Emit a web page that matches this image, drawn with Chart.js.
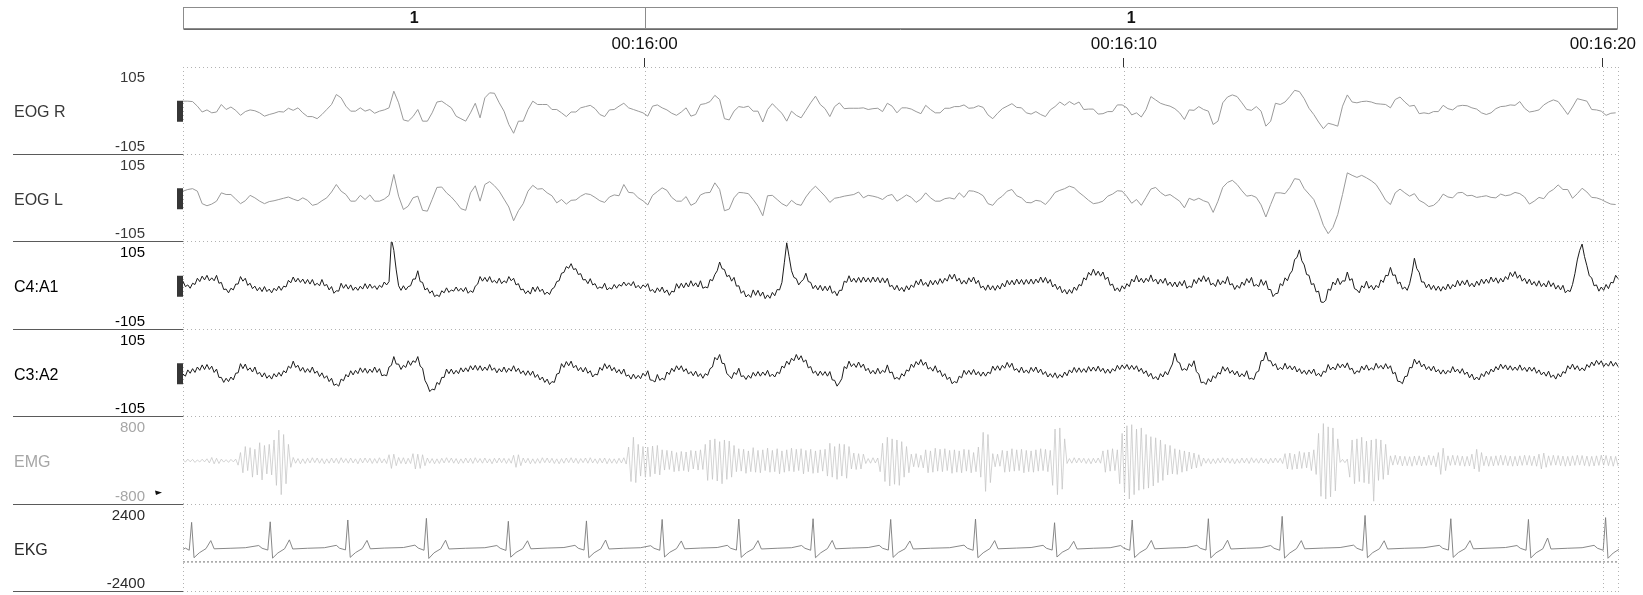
<!DOCTYPE html>
<html>
<head>
<meta charset="utf-8">
<title>PSG epoch view</title>
<script src="https://cdn.jsdelivr.net/npm/chart.js@4/dist/chart.umd.min.js"></script>
<style>
  html, body { margin: 0; padding: 0; background: #fff; }
  #wrap { position: relative; width: 1643px; height: 595px; }
</style>
</head>
<body>
<div id="wrap"><canvas id="psgChart" width="1643" height="595"></canvas></div>
<script>
// time axis (seconds of the recording)
const epochStart = 950.365;
const epochLength = 29.97;
const timeTicks = [960, 970, 980];
const epochBounds = [930, 960, 990];
const epochStages = ['1', '1'];

const channelNames = ['EOG R', 'EOG L', 'C4:A1', 'C3:A2', 'EMG', 'EKG'];
const channelLimits = [105, 105, 105, 105, 800, 2400];

const eogStep = 0.1;
const eegStep = 0.05;
const emgStep = 0.05;

const eogR = [
  23, 23, 22, 11, -3, 2, -5, -3, 15, 3,
  9, 1, -11, -2, 2, 0, -5, -13, -9, -6,
  -2, -3, 6, 1, 7, -5, -14, -14, -19, -9,
  3, 15, 39, 31, 11, -1, -1, 7, -1, 3,
  -6, -1, 2, 7, 47, 19, -22, -25, -14, 3,
  -25, -25, -5, 21, 23, 15, 7, -13, -19, -25,
  -5, 18, -17, 31, 43, 42, 19, -1, -33, -54,
  -25, -25, 3, 23, 15, 15, 15, 3, 3, -5,
  -14, -3, -3, 7, 10, 13, 5, -9, -14, 2,
  3, 11, 18, 7, 3, -1, -5, -13, 11, 14,
  7, 2, -6, -11, -3, 7, -13, -9, 15, 17,
  22, 37, 27, -19, -22, -1, 10, 8, 11, -1,
  -1, -27, 3, 17, 5, -6, -25, -1, -11, -17,
  1, 19, 35, 15, 5, -14, 10, 19, 5, 6,
  6, 6, 7, 3, 5, 6, -2, 18, 11, -5,
  7, 7, 4, -2, -7, 13, 3, -5, -5, 6,
  6, 10, 10, 14, 6, 7, 12, 8, -10, -19,
  -6, 5, 11, 17, 8, 7, -5, -8, -2, -9,
  -14, 2, 10, 21, 13, 22, 15, 21, 3, 4,
  4, -8, -7, -2, -2, 14, 14, 7, -10, -5,
  -15, 3, 34, 26, 18, 14, 11, 5, -5, -21,
  2, 1, 10, 3, -1, -33, -25, 19, 33, 38,
  34, 19, 3, 1, 10, -1, -37, -25, 18, 15,
  21, 34, 49, 46, 29, 6, -9, -27, -43, -30,
  -33, -37, 11, 38, 21, 19, 22, 23, 21, 17,
  16, 15, 7, 27, 33, 21, 11, 13, -7, -5,
  -7, -2, -2, 13, 5, 2, 11, 13, 12, 7,
  4, -5, -9, -5, 5, 10, 11, 14, 13, 22,
  6, -3, -1, 2, 14, 21, 26, 22, 7, -9,
  9, 29, 26, 23, 3, 2, -1, -11, -6, -5
];

const eogL = [
  17, 21, 23, 17, -13, -18, -14, -7, 13, 9,
  9, -2, -13, -6, 7, 1, -7, -13, -8, -6,
  -3, 0, 3, -2, -6, 1, -5, -17, -14, -6,
  1, 15, 33, 17, 9, -7, -7, 7, -3, 8,
  -7, -7, -2, 7, 57, 5, -27, -19, 1, 5,
  -29, -31, -3, 26, 27, 13, 3, -10, -25, -29,
  13, 30, -7, 33, 40, 30, 17, -2, -21, -54,
  -30, -13, 17, 31, 22, 23, 13, 6, -11, -3,
  -14, -5, -4, 5, 11, 9, 2, -6, -10, 3,
  8, 6, 33, 14, 13, 1, -6, -16, 7, 16,
  25, 19, 2, -7, -7, 4, -17, -11, 8, 13,
  14, 37, 21, -30, -26, 1, 14, 13, 11, -3,
  -19, -42, 6, 7, -3, -13, -19, -5, -14, -17,
  3, 18, 29, 17, 5, -10, 0, 2, 5, 7,
  9, 15, 1, 7, 5, 2, -3, 6, 9, -7,
  0, 8, 2, -10, -2, 13, 1, -7, -7, -1,
  1, -2, 13, 2, 18, 17, 13, 6, -13, -17,
  -3, 5, 17, 21, 6, 1, -10, -11, -5, -7,
  -15, -2, 14, 19, 23, 29, 25, 14, 5, -5,
  -13, -11, -7, 5, 10, 18, 17, 4, -12, -3,
  -17, 2, 22, 26, 14, 6, 9, 1, -7, -23,
  0, -5, 0, -6, -10, -34, -7, 26, 38, 43,
  33, 18, 5, 7, 2, -16, -45, -15, 13, 13,
  11, 26, 47, 45, 23, 10, -3, -31, -65, -85,
  -70, -39, 9, 61, 55, 50, 55, 49, 42, 33,
  15, -5, -15, 13, 22, 13, 5, 11, -5, -11,
  -20, -17, -7, 10, 3, 1, 13, 14, 6, 7,
  2, 4, 6, 2, 1, 10, 6, 8, 14, 11,
  3, -14, -7, 2, -1, 14, 21, 32, 21, 21,
  0, 11, 24, 15, 2, 1, -3, -9, -14, -15
];

const c4a1 = [
  11, -2, 2, -6, 6, 3, 18, 10, 23, 14, 25, 12, 19, 12, 25, 6, 8, -9, -8, -17,
  -6, -10, 4, 4, 22, 11, 18, 1, 6, -7, -1, -12, -4, -14, -2, -14, -8, -17, -6, -12,
  -1, -11, -1, -3, 13, 7, 21, 9, 18, 8, 16, 5, 15, 4, 15, 1, 6, 0, 15, 0,
  3, -10, -2, -18, -12, -13, 6, -6, 3, -8, 2, -11, -3, -11, -1, -8, 5, -7, 4, -6,
  0, -9, 1, -4, 9, 2, 10, 112, 85, 38, 0, -11, 0, -10, -2, 0, 16, 16, 36, 10,
  8, -10, -6, -18, -12, -26, -22, -26, -12, -17, -5, -16, -10, -13, -3, -13, -6, -14, -4, -18,
  -12, -16, -1, 4, 22, 11, 20, 10, 22, 8, 13, 6, 18, 5, 12, 7, 22, 12, 18, 2,
  5, -10, -8, -19, -12, -20, -3, -14, -2, -14, -8, -21, -15, -21, -8, -4, 10, 12, 30, 32,
  46, 42, 53, 39, 41, 27, 29, 14, 15, 5, 17, 2, 5, -7, -3, -6, 6, -10, -5, -8,
  3, -6, 3, -1, 9, 0, 7, 0, 10, -5, 1, -7, 2, -3, 5, -13, -9, -17, -5, -14,
  -3, -17, -10, -23, -13, -15, 5, -6, 6, -5, 7, -3, 12, -1, 7, -3, 12, -6, -3, -5,
  15, 12, 27, 36, 57, 41, 39, 22, 25, 11, 20, -1, 0, -18, -12, -27, -21, -28, -10, -23,
  -11, -25, -15, -31, -22, -30, -16, -24, -9, -10, 8, 55, 103, 70, 36, 20, 17, 2, 10, 15,
  30, 10, 8, -7, 1, -10, 1, -12, -1, -12, 0, -18, -13, -24, -11, -11, 11, 8, 24, 9,
  18, 8, 20, 8, 21, 9, 19, 8, 21, 9, 20, 7, 19, 7, 18, -2, 1, -10, 1, -12,
  -4, -14, 0, -10, 2, -4, 12, 2, 16, 1, 8, -2, 13, 2, 13, 3, 17, 6, 18, 11,
  27, 16, 28, 11, 18, 4, 13, 4, 19, 9, 21, 5, 13, -5, -1, -11, 2, -10, 0, -11,
  1, -8, 6, -3, 13, 2, 13, 2, 16, 4, 15, 3, 15, 4, 16, 4, 16, 7, 21, 8,
  20, 6, 15, -3, 4, -9, -1, -17, -9, -20, -9, -18, -3, -11, 3, 0, 19, 14, 32, 25,
  40, 25, 35, 23, 33, 15, 21, 1, 4, -12, -5, -14, 0, -8, 5, -2, 16, 9, 25, 9,
  18, 7, 18, 10, 26, 10, 16, 4, 16, 6, 18, 1, 9, -2, 9, -3, 10, 0, 13, -6,
  -1, -4, 15, 5, 19, 10, 24, 10, 20, 2, 6, -2, 15, 2, 12, 5, 22, 2, 5, -9,
  1, -6, 9, 1, 17, 7, 20, -1, 3, -2, 15, 1, 12, -9, -9, -26, -19, -18, 5, 0,
  19, 12, 28, 36, 63, 68, 86, 60, 50, 27, 25, 3, 5, -15, -13, -39, -40, -35, -8, -11,
  9, 2, 18, 3, 12, 11, 33, 13, 17, -7, -10, -17, 0, -5, 11, -6, 1, -10, 1, -5,
  14, 8, 25, 24, 44, 25, 26, 5, 9, -8, -3, -11, 5, 31, 66, 41, 32, 9, 9, -5,
  4, -9, 1, -11, -1, -13, -2, -10, 4, -8, 3, -3, 13, 0, 12, 2, 14, -2, 6, -3,
  11, 1, 16, 5, 16, 6, 21, 9, 19, 6, 18, 9, 22, 15, 32, 22, 34, 18, 26, 11,
  18, 5, 16, 2, 10, -1, 12, -2, 6, -3, 12, -2, 7, -8, 1, -10, 1, -17, -11, -14,
  3, 29, 62, 85, 100, 70, 48, 24, 19, 0, 2, -13, -3, -11, 3, -7, 8, 7, 25, 17
];

const c3a2 = [
  -2, -7, 8, 0, 11, 2, 15, 7, 20, 9, 21, 9, 17, 2, 10, -10, -10, -22, -12, -20,
  -9, -16, 0, 1, 23, 11, 22, 7, 13, 3, 15, -2, 2, -9, 1, -12, -5, -14, -1, -9,
  2, -7, 6, 1, 17, 12, 29, 14, 19, 5, 14, 2, 11, 2, 15, 0, 5, -8, 1, -12,
  -6, -20, -12, -29, -26, -31, -14, -18, -3, -9, 6, -4, 7, -1, 13, 2, 12, 0, 10, 2,
  15, 2, 11, -6, -4, -6, 15, 19, 40, 22, 22, 9, 19, 14, 30, 19, 30, 26, 40, 17,
  12, -17, -28, -44, -38, -40, -22, -27, -10, -10, 10, -1, 10, -2, 7, -1, 13, 3, 13, 4,
  18, 8, 19, 7, 18, 6, 15, 7, 21, 7, 13, 1, 11, 3, 15, 2, 12, 5, 18, 4,
  12, -1, 6, -5, 6, -5, 5, -10, -3, -16, -9, -22, -14, -27, -20, -22, -2, 0, 23, 14,
  28, 18, 29, 13, 19, 6, 14, 3, 14, 0, 6, -9, -2, -4, 14, 7, 23, 11, 20, 6,
  14, 1, 9, -2, 10, -7, -4, -14, -2, -13, -5, -13, 0, -7, 6, -16, -17, -21, -3, -17,
  -12, -16, 3, -3, 12, 4, 18, 8, 18, 4, 11, -2, 4, -6, 5, -8, -1, -12, -1, -5,
  11, 15, 38, 32, 45, 24, 23, -1, -6, -13, 2, -3, 12, -8, -6, -15, -5, -12, 2, -7,
  4, -7, 3, -5, 7, -8, -2, -9, 3, -1, 17, 13, 29, 21, 36, 30, 45, 32, 42, 27,
  32, 13, 16, 0, 5, -6, 5, -5, 4, -7, 4, -16, -17, -31, -23, -13, 16, 11, 29, 16,
  23, 14, 27, 14, 22, 6, 12, -1, 7, -2, 12, -1, 7, 2, 20, 1, 3, -14, -10, -15,
  -1, -7, 8, 5, 22, 14, 28, 20, 33, 19, 27, 10, 14, 5, 18, 2, 7, -8, -1, -15,
  -9, -25, -20, -23, -7, -11, 7, -3, 7, -3, 9, -4, 4, -7, 3, -7, 3, -1, 17, 7,
  18, 7, 19, 12, 26, 14, 24, 7, 11, 2, 15, 1, 8, 0, 14, 4, 15, 1, 10, -3,
  4, -9, -1, -10, 1, -12, -3, -10, 3, -6, 8, 1, 14, 2, 13, 2, 11, 2, 16, 5,
  15, 5, 17, 4, 12, 0, 10, 0, 11, 5, 19, 9, 20, 11, 21, 9, 19, 9, 18, 4,
  12, -1, 6, -8, 0, -14, -8, -16, -1, -9, 4, -4, 10, 22, 48, 28, 25, 7, 11, 7,
  23, 16, 30, 4, -2, -23, -21, -27, -13, -21, -6, -12, 2, -2, 16, 5, 14, 0, 7, -4,
  5, -9, -1, -8, 6, -14, -12, -15, 2, 5, 30, 31, 51, 30, 30, 17, 23, 8, 14, 9,
  24, 10, 18, 8, 17, 3, 11, -1, 7, -3, 8, -1, 10, -6, 0, -8, 5, 2, 21, 8,
  15, 8, 23, 13, 22, 13, 25, 9, 12, -2, 6, 2, 17, 8, 20, 7, 13, 8, 24, 12,
  19, 10, 23, 11, 18, -1, 2, -19, -20, -25, -8, -7, 14, 13, 34, 22, 30, 15, 22, 9,
  16, 6, 17, 3, 9, -2, 8, -2, 7, 1, 16, 3, 10, 0, 11, -3, 3, -11, -2, -16,
  -9, -16, -1, -8, 5, -3, 10, 3, 16, 8, 22, 11, 20, 8, 18, 7, 15, 7, 20, 7,
  14, 4, 15, 5, 14, 0, 8, -4, 3, -7, 5, -10, -4, -14, -1, -9, 4, 0, 18, 10,
  22, 9, 18, 6, 13, 6, 21, 14, 27, 18, 31, 21, 30, 16, 24, 17, 29, 17, 26, 16
];

const emg = [
  20, -25, 30, -18, 25, -30, 15, -22, 28, -20, 35, -40, 60, -55, 45, -50, 30, -25, 20, -30,
  25, -20, 30, -80, 150, -220, 260, -180, 240, -300, 210, -260, 330, -350, 280, -240, 300, -260, 380, -450,
  560, -620, 480, -420, 300, -120, 60, -45, 40, -55, 35, -50, 45, -40, 55, -35, 50, -45, 40, -55,
  35, -45, 50, -40, 45, -50, 55, -35, 40, -45, 50, -40, 35, -55, 45, -40, 50, -35, 45, -50,
  40, -45, 55, -40, 35, -50, 110, -140, 120, -90, 60, -50, 55, -60, 45, -50, 130, -150, 120, -140,
  110, -90, 50, -45, 40, -55, 35, -50, 45, -40, 55, -35, 50, -45, 40, -55, 35, -45, 50, -40,
  45, -50, 55, -35, 40, -45, 50, -40, 35, -55, 45, -40, 50, -35, 45, -50, 40, -45, 100, -120,
  110, -90, 50, -40, 45, -55, 35, -50, 40, -45, 55, -35, 50, -40, 45, -50, 35, -55, 40, -45,
  50, -35, 55, -40, 45, -50, 40, -35, 50, -45, 55, -40, 35, -50, 45, -40, 50, -55, 40, -45,
  35, -50, 45, -40, 55, -60, 250, -380, 430, -400, 300, -280, 260, -300, 250, -290, 270, -240, 280, -260,
  200, -170, 190, -160, 180, -200, 150, -190, 170, -180, 160, -200, 190, -150, 180, -170, 200, -160, 300, -360,
  380, -340, 400, -370, 350, -420, 380, -340, 360, -300, 280, -200, 220, -190, 210, -230, 180, -200, 240, -210,
  190, -220, 200, -180, 230, -210, 190, -200, 220, -240, 180, -210, 200, -190, 230, -200, 210, -180, 220, -240,
  190, -200, 210, -230, 180, -220, 200, -190, 210, -280, 320, -300, 260, -340, 310, -280, 300, -320, 260, -150,
  140, -160, 130, -150, 120, -50, 40, -45, 55, -40, 50, -200, 320, -380, 430, -460, 400, -430, 380, -450,
  350, -300, 260, -220, 120, -110, 130, -120, 100, -130, 200, -220, 180, -210, 230, -190, 210, -200, 220, -180,
  190, -230, 200, -210, 180, -220, 210, -190, 200, -220, 150, -200, 250, -300, 520, -560, 480, -400, 130, -110,
  120, -100, 190, -210, 180, -200, 220, -190, 200, -180, 210, -220, 190, -200, 180, -210, 200, -190, 220, -180,
  210, -200, 190, -450, 580, -620, 600, -520, 400, -50, 40, -45, 55, -40, 50, -35, 45, -50, 40, -55,
  45, -40, 50, -45, 180, -210, 200, -190, 220, -180, 200, -420, 500, -580, 640, -700, 660, -620, 580, -540,
  600, -520, 480, -500, 440, -460, 420, -400, 380, -360, 300, -260, 280, -240, 220, -250, 200, -210, 180, -190,
  160, -150, 140, -130, 110, -100, 50, -45, 40, -55, 35, -50, 45, -40, 55, -35, 50, -45, 40, -55,
  35, -45, 50, -40, 45, -50, 55, -35, 40, -45, 50, -40, 35, -55, 45, -40, 50, -35, 45, -50,
  130, -150, 140, -160, 120, -150, 170, -140, 150, -130, 160, -180, 200, -250, 500, -650, 680, -700, 620, -660,
  600, -550, 400, -30, 25, -35, 30, -300, 380, -420, 400, -380, 430, -400, 360, -420, 380, -740, 400, -360,
  380, -340, 300, -260, 90, -80, 100, -70, 85, -95, 80, -90, 75, -100, 85, -80, 90, -95, 70, -85,
  100, -80, 90, -110, 150, -250, 230, -180, 90, -85, 100, -80, 95, -90, 85, -100, 80, -95, 120, -150,
  210, -200, 150, -90, 85, -100, 80, -95, 90, -85, 100, -80, 95, -90, 85, -100, 80, -95, 90, -85,
  100, -80, 95, -90, 85, -100, 120, -150, 140, -120, 90, -85, 100, -80, 95, -90, 85, -100, 80, -95,
  90, -85, 100, -80, 95, -90, 85, -100, 80, -95, 90, -85, 100, -80, 95, -90, 85, -100, 80, -95
];

// EKG vertices: seconds from epoch start and amplitude
const ekgTimes = [
  0.00, 0.05, 0.13, 0.18, 0.23, 0.34, 0.48, 0.58, 0.65, 1.00, 1.30, 1.58, 1.65, 1.77,
  1.82, 1.87, 1.98, 2.12, 2.22, 2.29, 2.60, 2.95, 3.20, 3.27, 3.39,
  3.44, 3.49, 3.60, 3.74, 3.84, 3.91, 4.20, 4.60, 4.84, 4.91, 5.03,
  5.08, 5.13, 5.24, 5.38, 5.48, 5.55, 5.90, 6.30, 6.55, 6.62, 6.74,
  6.79, 6.84, 6.95, 7.09, 7.19, 7.26, 7.60, 7.95, 8.18, 8.25, 8.37,
  8.42, 8.47, 8.58, 8.72, 8.82, 8.89, 9.20, 9.55, 9.76, 9.83, 9.95,
  10.00, 10.05, 10.16, 10.30, 10.40, 10.47, 10.80, 11.15, 11.36, 11.43, 11.55,
  11.60, 11.65, 11.76, 11.90, 12.00, 12.07, 12.40, 12.70, 12.91, 12.98, 13.10,
  13.15, 13.20, 13.31, 13.45, 13.55, 13.62, 13.95, 14.30, 14.53, 14.60, 14.72,
  14.77, 14.82, 14.93, 15.07, 15.17, 15.24, 15.60, 16.00, 16.30, 16.37, 16.49,
  16.54, 16.59, 16.70, 16.84, 16.94, 17.01, 17.40, 17.70, 17.95, 18.02, 18.14,
  18.19, 18.24, 18.35, 18.49, 18.59, 18.66, 19.00, 19.35, 19.57, 19.64, 19.76,
  19.81, 19.86, 19.97, 20.11, 20.21, 20.28, 20.60, 20.95, 21.16, 21.23, 21.35,
  21.40, 21.45, 21.56, 21.70, 21.80, 21.87, 22.20, 22.50, 22.70, 22.77, 22.89,
  22.94, 22.99, 23.10, 23.24, 23.34, 23.41, 23.80, 24.15, 24.43, 24.50, 24.62,
  24.67, 24.72, 24.83, 24.97, 25.07, 25.14, 25.50, 25.90, 26.22, 26.29, 26.41,
  26.46, 26.51, 26.62, 26.76, 26.86, 26.93, 27.30, 27.60, 27.84, 27.91, 28.03,
  28.08, 28.13, 28.24, 28.38, 28.48, 28.55, 28.90, 29.20, 29.45, 29.52, 29.64,
  29.69, 29.74, 29.85, 29.97
];
const ekgValues = [
  -60, 10, -110, 1420, -520, -250, -20, 420, -30, 0, 30, 150, 0, -100,
  1450, -540, -260, -30, 460, -40, 0, 30, 160, 0, -90,
  1550, -500, -240, -20, 430, -30, 10, 40, 170, 10, -110,
  1640, -560, -250, -30, 440, -40, 0, 30, 150, 0, -120,
  1480, -490, -230, -20, 410, -30, 10, 40, 160, 0, -100,
  1500, -520, -250, -30, 450, -40, 0, 30, 140, 0, -110,
  1580, -480, -220, -20, 400, -30, 10, 40, 160, 0, -100,
  1600, -500, -240, -30, 420, -40, 0, 30, 150, 0, -110,
  1620, -520, -250, -20, 430, -30, 10, 40, 160, 0, -100,
  1580, -500, -230, -30, 400, -40, 0, 30, 170, 0, -110,
  1600, -520, -250, -20, 420, -30, 10, 40, 160, 0, -100,
  1400, -480, -220, -30, 380, -40, 0, 30, 150, 0, -110,
  1550, -510, -240, -20, 430, -30, 10, 40, 160, 0, -100,
  1620, -530, -250, -30, 440, -40, 0, 30, 150, 0, -110,
  1750, -540, -260, -20, 420, -30, 10, 40, 170, 0, -120,
  1800, -520, -240, -30, 410, -40, 0, 30, 160, 0, -100,
  1620, -500, -230, -20, 420, -30, 10, 40, 150, 0, -110,
  1580, -530, -250, -30, 560, -40, 0, 30, 160, 0, -110,
  1680, -550, -260, -60
];
const ekgMarkerLevel = -750;

const looks = [
  { trace: '#9a9a9a', width: 1, text: '#383838', marker: true },
  { trace: '#9a9a9a', width: 1, text: '#383838', marker: true },
  { trace: '#1c1c1c', width: 1, text: '#000000', marker: true },
  { trace: '#1c1c1c', width: 1, text: '#000000', marker: true },
  { trace: '#c2c2c2', width: 0.7, text: '#a6a6a6', marker: false },
  { trace: '#7a7a7a', width: 0.9, text: '#2a2a2a', marker: false }
];

const xMin = epochStart;
const xMax = epochStart + epochLength;

function series(values, step) {
  return values.map((v, i) => ({ x: epochStart + i * step, y: v }));
}

function clock(sec) {
  const h = Math.floor(sec / 3600);
  const m = Math.floor((sec % 3600) / 60);
  const s = Math.round(sec % 60);
  return [h, m, s].map(n => String(n).padStart(2, '0')).join(':');
}

const traces = [
  series(eogR, eogStep),
  series(eogL, eogStep),
  series(c4a1, eegStep),
  series(c3a2, eegStep),
  series(emg, emgStep),
  ekgTimes.map((t, i) => ({ x: epochStart + t, y: ekgValues[i] }))
];

const datasets = traces.map((data, i) => ({
  label: channelNames[i],
  data: data,
  yAxisID: 'ch' + i,
  borderColor: looks[i].trace,
  borderWidth: looks[i].width,
  borderJoinStyle: 'round',
  pointRadius: 0,
  tension: 0
}));

// dotted reference level under the EKG trace
datasets.push({
  label: 'EKG level',
  data: [{ x: xMin, y: ekgMarkerLevel }, { x: xMax, y: ekgMarkerLevel }],
  yAxisID: 'ch5',
  borderColor: '#707070',
  borderWidth: 1,
  borderDash: [2, 2],
  pointRadius: 0
});

const scales = {
  x: {
    type: 'linear',
    position: 'top',
    min: xMin,
    max: xMax,
    afterBuildTicks: axis => { axis.ticks = timeTicks.map(v => ({ value: v })); },
    afterFit: axis => { axis.height = 31; },
    ticks: {
      callback: v => clock(v),
      color: '#111',
      font: { size: 17 },
      padding: 3,
      maxRotation: 0,
      autoSkip: false
    },
    grid: { drawOnChartArea: false, drawTicks: true, tickLength: 9, tickColor: '#333', tickWidth: 1 },
    border: { display: false }
  }
};
channelNames.forEach((name, i) => {
  scales['ch' + i] = {
    type: 'linear',
    display: false,
    position: 'left',
    stack: 'channels',
    stackWeight: 1,
    weight: channelNames.length - i,
    min: -channelLimits[i],
    max: channelLimits[i]
  };
});

function hLine(ctx, x1, x2, y) {
  ctx.beginPath();
  ctx.moveTo(x1, y);
  ctx.lineTo(x2, y);
  ctx.stroke();
}

function vLine(ctx, x, y1, y2) {
  ctx.beginPath();
  ctx.moveTo(x, y1);
  ctx.lineTo(x, y2);
  ctx.stroke();
}

const psgFrame = {
  id: 'psgFrame',
  beforeDatasetsDraw(chart) {
    const { ctx, chartArea: a, scales: s } = chart;
    ctx.save();
    ctx.strokeStyle = '#b2b2b2';
    ctx.lineWidth = 1;
    ctx.setLineDash([1, 3]);
    const xs = [a.left, a.right - 1].concat(timeTicks.map(v => s.x.getPixelForValue(v)));
    xs.forEach(px => vLine(ctx, Math.round(px) + 0.5, a.top, a.bottom));
    channelNames.forEach((name, i) => {
      const sc = s['ch' + i];
      if (i === 0) hLine(ctx, a.left, a.right, Math.round(sc.top) + 0.5);
      hLine(ctx, a.left, a.right, Math.round(sc.bottom) - 0.5);
    });
    ctx.restore();
  },
  afterDraw(chart) {
    const { ctx, chartArea: a, scales: s } = chart;
    ctx.save();

    // channel captions, ranges, separators and markers
    channelNames.forEach((name, i) => {
      const sc = s['ch' + i];
      const mid = (sc.top + sc.bottom) / 2;
      const look = looks[i];
      ctx.fillStyle = look.text;
      ctx.textBaseline = 'middle';
      ctx.font = '16px "Liberation Sans", Arial, sans-serif';
      ctx.textAlign = 'left';
      ctx.fillText(name, 14, mid + 2);
      ctx.font = '15px "Liberation Sans", Arial, sans-serif';
      ctx.textAlign = 'right';
      ctx.fillText(String(channelLimits[i]), 145, sc.top + 11);
      ctx.fillText(String(-channelLimits[i]), 145, sc.bottom - 8);

      ctx.strokeStyle = '#5a5a5a';
      ctx.lineWidth = 1;
      hLine(ctx, 13, a.left, Math.round(sc.bottom) - 0.5);

      if (look.marker) {
        ctx.fillStyle = '#363636';
        ctx.fillRect(a.left - 6, mid - 10, 6, 21);
      }
    });

    // small pointer next to the EMG range
    const emgScale = s.ch4;
    const py = emgScale.bottom - 12;
    ctx.fillStyle = '#111';
    ctx.beginPath();
    ctx.moveTo(155, py - 2);
    ctx.lineTo(162, py);
    ctx.lineTo(156, py + 2.5);
    ctx.closePath();
    ctx.fill();

    // epoch / stage bar
    const top = 7.5, bottom = 28.5;
    const left = a.left + 0.5, right = a.right - 1.5;
    ctx.fillStyle = '#fff';
    ctx.fillRect(left, top, right - left, bottom - top);
    ctx.strokeStyle = '#8c8c8c';
    ctx.strokeRect(left, top, right - left, bottom - top);
    ctx.strokeStyle = '#6a6a6a';
    hLine(ctx, left, right, bottom + 1);
    ctx.font = 'bold 16px "Liberation Sans", Arial, sans-serif';
    ctx.fillStyle = '#111';
    ctx.textAlign = 'center';
    ctx.textBaseline = 'middle';
    epochStages.forEach((stage, i) => {
      const x1 = Math.max(s.x.getPixelForValue(epochBounds[i]), left);
      const x2 = Math.min(s.x.getPixelForValue(epochBounds[i + 1]), right);
      if (i > 0) {
        ctx.strokeStyle = '#8c8c8c';
        vLine(ctx, Math.round(x1) + 0.5, top, bottom);
      }
      ctx.fillText(stage, (x1 + x2) / 2, (top + bottom) / 2 + 1);
    });

    ctx.restore();
  }
};

Chart.defaults.font.family = '"Liberation Sans", Arial, sans-serif';

new Chart(document.getElementById('psgChart'), {
  type: 'line',
  data: { datasets: datasets },
  options: {
    responsive: false,
    devicePixelRatio: 1,
    animation: false,
    events: [],
    layout: { padding: { left: 183, right: 24, top: 36, bottom: 3 } },
    plugins: { legend: { display: false }, tooltip: { enabled: false } },
    scales: scales
  },
  plugins: [psgFrame]
});
</script>
</body>
</html>
